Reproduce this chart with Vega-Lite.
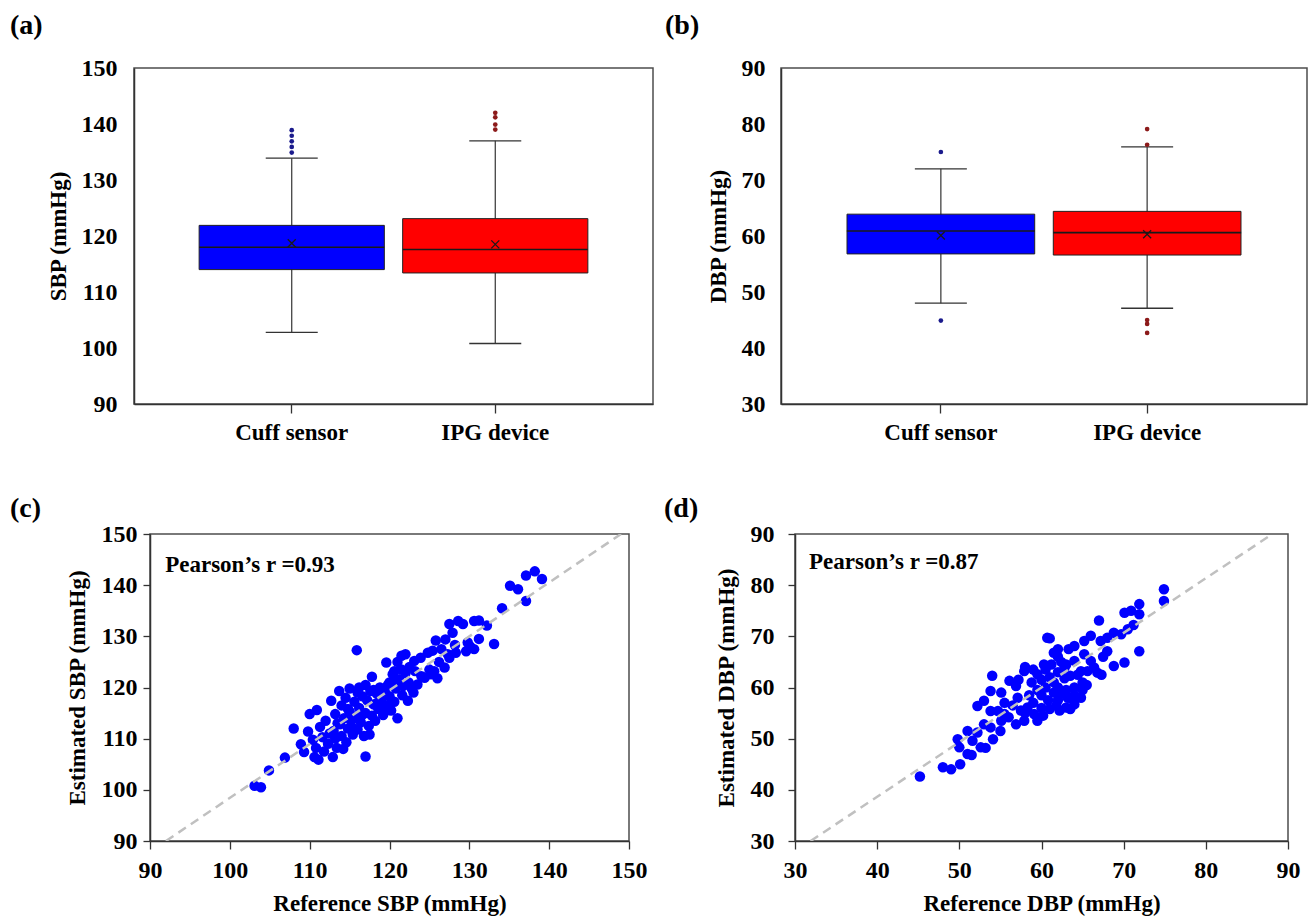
{
  "$schema": "https://vega.github.io/schema/vega-lite/v6.json",
  "padding": {"left": 9, "top": 11, "right": 0, "bottom": 0},
  "background": "white",
  "spacing": 49,
  "datasets": {
    "boxA": [
      {"device": "Cuff sensor", "lo": 102.8, "q1": 114.0, "median": 118.0, "q3": 121.9, "hi": 133.9, "mean": 118.7},
      {"device": "IPG device", "lo": 100.8, "q1": 113.4, "median": 117.6, "q3": 123.1, "hi": 137.0, "mean": 118.5}
    ],
    "outA": [
      {"device": "Cuff sensor", "value": 134.9}, {"device": "Cuff sensor", "value": 135.9}, {"device": "Cuff sensor", "value": 136.9},
      {"device": "Cuff sensor", "value": 137.9}, {"device": "Cuff sensor", "value": 138.9},
      {"device": "IPG device", "value": 139.0}, {"device": "IPG device", "value": 139.9}, {"device": "IPG device", "value": 141.2}, {"device": "IPG device", "value": 142.0}
    ],
    "boxB": [
      {"device": "Cuff sensor", "lo": 48.0, "q1": 56.8, "median": 60.9, "q3": 63.9, "hi": 72.0, "mean": 60.1},
      {"device": "IPG device", "lo": 47.1, "q1": 56.6, "median": 60.6, "q3": 64.4, "hi": 75.9, "mean": 60.3}
    ],
    "outB": [
      {"device": "Cuff sensor", "value": 75.0}, {"device": "Cuff sensor", "value": 44.9},
      {"device": "IPG device", "value": 79.1}, {"device": "IPG device", "value": 76.3}, {"device": "IPG device", "value": 45.0},
      {"device": "IPG device", "value": 44.3}, {"device": "IPG device", "value": 42.7}
    ],
    "spacer": [{"k": 0}],
    "scatC": [
      {"ref":103.1,"est":100.8},{"ref":103.9,"est":100.5},{"ref":104.9,"est":103.8},{"ref":106.9,"est":106.3},{"ref":108,"est":112},
      {"ref":108.9,"est":108.9},{"ref":109.3,"est":107.4},{"ref":109.8,"est":111.4},{"ref":110,"est":114.8},{"ref":110.4,"est":109.8},
      {"ref":110.6,"est":106.4},{"ref":110.8,"est":108.2},{"ref":110.9,"est":115.6},{"ref":111.1,"est":105.9},{"ref":111.3,"est":112.3},
      {"ref":111.6,"est":110.3},{"ref":111.8,"est":107.5},{"ref":112,"est":113.5},{"ref":112.3,"est":109},{"ref":112.7,"est":117.4},
      {"ref":112.9,"est":106.4},{"ref":113,"est":111.5},{"ref":113.2,"est":114.8},{"ref":113.4,"est":108.2},{"ref":113.7,"est":119.3},
      {"ref":113.8,"est":112.8},{"ref":114,"est":110.5},{"ref":114,"est":116.5},{"ref":114.3,"est":114},{"ref":114.5,"est":118},
      {"ref":114.6,"est":109.3},{"ref":114.8,"est":112},{"ref":115,"est":119.8},{"ref":115,"est":115.3},{"ref":115.2,"est":113.5},
      {"ref":115.4,"est":110.8},{"ref":115.6,"est":117.2},{"ref":115.9,"est":127.3},{"ref":115.8,"est":114.3},{"ref":116,"est":119},
      {"ref":116,"est":111.8},{"ref":116.2,"est":116},{"ref":116.4,"est":113.2},{"ref":116.6,"est":118.3},{"ref":116.8,"est":110.5},
      {"ref":117,"est":106.5},{"ref":117,"est":115},{"ref":117.2,"est":117.5},{"ref":117.4,"est":112.5},{"ref":117.6,"est":119.3},
      {"ref":117.8,"est":122.1},{"ref":117.8,"est":114.5},{"ref":118,"est":116.7},{"ref":118.2,"est":113.5},{"ref":118.4,"est":118.8},
      {"ref":118.6,"est":115.8},{"ref":118.8,"est":120},{"ref":119,"est":117.5},{"ref":119.2,"est":114.6},{"ref":119.4,"est":119.3},
      {"ref":119.6,"est":124.9},{"ref":119.7,"est":116.5},{"ref":120,"est":121},{"ref":120,"est":118.3},{"ref":120.2,"est":115.5},
      {"ref":120.4,"est":122.6},{"ref":120.6,"est":123.2},{"ref":120.6,"est":117.2},{"ref":121,"est":114},{"ref":120.8,"est":119.8},
      {"ref":121,"est":125},{"ref":121.2,"est":121.6},{"ref":121.5,"est":126.2},{"ref":121.6,"est":118.5},{"ref":121.7,"est":120.3},
      {"ref":122,"est":126.5},{"ref":122,"est":122.8},{"ref":122.3,"est":117.4},{"ref":122.4,"est":121},{"ref":122.8,"est":119.8},
      {"ref":123.1,"est":125.2},{"ref":123.2,"est":123.2},{"ref":123.5,"est":120.6},{"ref":123.9,"est":125.8},{"ref":124,"est":122.2},
      {"ref":124.4,"est":121.9},{"ref":124.8,"est":126.8},{"ref":125,"est":123.5},{"ref":125.2,"est":122.6},{"ref":125.4,"est":127.2},
      {"ref":125.8,"est":129.2},{"ref":125.6,"est":123.2},{"ref":126,"est":121.8},{"ref":126.2,"est":125},{"ref":126.5,"est":127.5},
      {"ref":126.9,"est":123.9},{"ref":127,"est":129.4},{"ref":127.3,"est":126.5},{"ref":127.5,"est":125.8},{"ref":127.5,"est":132.4},
      {"ref":127.9,"est":130.7},{"ref":128.2,"est":128.3},{"ref":128.6,"est":133},{"ref":128.3,"est":126.8},{"ref":129.2,"est":132.4},
      {"ref":129.6,"est":127.1},{"ref":129.8,"est":128.8},{"ref":130.1,"est":128},{"ref":130.6,"est":133},{"ref":130.6,"est":127.5},
      {"ref":131.2,"est":129.5},{"ref":131.2,"est":133.1},{"ref":132.2,"est":132.1},{"ref":133.1,"est":128.5},{"ref":134.1,"est":135.5},
      {"ref":135.1,"est":139.9},{"ref":136.1,"est":139.2},{"ref":137.1,"est":136.9},{"ref":137.1,"est":141.9},{"ref":138.2,"est":142.7},
      {"ref":139.1,"est":141.2},
      {"ref":112.5,"est":111},{"ref":113.5,"est":113},{"ref":114.2,"est":108},{"ref":115.5,"est":112},{"ref":116.5,"est":114.5},
      {"ref":117.5,"est":110.8},{"ref":118.5,"est":117},{"ref":119.5,"est":115.5},{"ref":114.8,"est":115.8},{"ref":116.2,"est":120},
      {"ref":113.2,"est":110},{"ref":117,"est":120.5},{"ref":118,"est":119.5},{"ref":119.8,"est":120.5},{"ref":121.5,"est":123.5},
      {"ref":122.5,"est":124},{"ref":120.5,"est":121},{"ref":123,"est":119}
    ],
    "scatD": [
      {"ref":45.2,"est":42.6},{"ref":48,"est":44.4},{"ref":49,"est":44},{"ref":50.1,"est":45},{"ref":49.8,"est":49.9},
      {"ref":51,"est":51.5},{"ref":51.6,"est":49.6},{"ref":52.6,"est":48.3},{"ref":51,"est":47},{"ref":52.2,"est":51.2},
      {"ref":54.1,"est":49.9},{"ref":53.8,"est":52.2},{"ref":55.1,"est":53.5},{"ref":53,"est":52.8},{"ref":52.2,"est":56.4},
      {"ref":53,"est":57.4},{"ref":53.8,"est":55.4},{"ref":54.7,"est":55.4},{"ref":55.5,"est":54.8},{"ref":53.8,"est":59.3},
      {"ref":55.1,"est":59},{"ref":54,"est":62.3},{"ref":56.1,"est":61.3},{"ref":56.9,"est":60.3},{"ref":57.1,"est":58},
      {"ref":56.9,"est":52.8},{"ref":57.9,"est":53.5},{"ref":58.3,"est":56.1},{"ref":59.1,"est":54.8},{"ref":57.9,"est":63.2},
      {"ref":59.5,"est":62.6},{"ref":60.3,"est":64.5},{"ref":60.7,"est":69.7},{"ref":50,"est":48.3},{"ref":51.5,"est":46.8},
      {"ref":53.2,"est":48.2},{"ref":55,"est":51.5},{"ref":55.5,"est":57},
      {"ref":58,"est":55},{"ref":58.5,"est":58.5},{"ref":58.8,"est":61},{"ref":59,"est":57},{"ref":59.5,"est":59.5},
      {"ref":60,"est":56},{"ref":60,"est":58.5},{"ref":60,"est":61.5},{"ref":60.5,"est":60},{"ref":60.8,"est":57.5},
      {"ref":61,"est":62},{"ref":61,"est":55.8},{"ref":61.2,"est":64.5},{"ref":61.5,"est":59},{"ref":61.5,"est":61},
      {"ref":61.8,"est":56.5},{"ref":62,"est":66},{"ref":62,"est":63},{"ref":62,"est":60},{"ref":62,"est":57.5},
      {"ref":62.4,"est":65},{"ref":62.5,"est":58.8},{"ref":62.8,"est":61.8},{"ref":63,"est":56.1},{"ref":63,"est":64.5},
      {"ref":63,"est":59.5},{"ref":63.3,"est":67.5},{"ref":63.5,"est":62.3},{"ref":63.7,"est":57.8},{"ref":64,"est":68.1},
      {"ref":64,"est":60},{"ref":64,"est":65.2},{"ref":64,"est":56.7},{"ref":64,"est":58.5},{"ref":64.4,"est":62.5},
      {"ref":64.8,"est":63.2},{"ref":64.8,"est":58},{"ref":65,"est":61},{"ref":65.2,"est":69.1},{"ref":65,"est":59.5},
      {"ref":65.2,"est":66.5},{"ref":65.6,"est":63.2},{"ref":65.5,"est":60.5},{"ref":66,"est":70.1},{"ref":66,"est":65.2},
      {"ref":66.4,"est":63.9},{"ref":66.8,"est":62.9},{"ref":67,"est":73.1},{"ref":67.2,"est":69.1},{"ref":67.3,"est":62.5},
      {"ref":67.5,"est":66},{"ref":68,"est":67.1},{"ref":68,"est":69.7},{"ref":68.8,"est":70.7},{"ref":68.8,"est":64.2},
      {"ref":69.7,"est":70.4},{"ref":70.1,"est":64.9},{"ref":70.1,"est":74.6},{"ref":70.5,"est":71.4},{"ref":70.9,"est":75},
      {"ref":71.2,"est":72.2},{"ref":71.9,"est":76.3},{"ref":71.9,"est":74.3},{"ref":71.9,"est":67.1},{"ref":74.9,"est":79.2},
      {"ref":74.9,"est":76.9},
      {"ref":62,"est":67.5},{"ref":61,"est":69.6},{"ref":59,"est":63.5},{"ref":58,"est":64},{"ref":60.5,"est":63.5},
      {"ref":61.5,"est":66.8},{"ref":62.8,"est":63.9},{"ref":63.2,"est":58},{"ref":57.2,"est":61.5},{"ref":56,"est":54.2},
      {"ref":57.5,"est":55.5},{"ref":59.5,"est":53.5},{"ref":60.2,"est":54.5},{"ref":62.2,"est":55.5},{"ref":63.5,"est":55.8},
      {"ref":56.5,"est":56.5}
    ],
    "lineC": [{"ref": 92, "est": 90}, {"ref": 149, "est": 150}],
    "lineD": [{"ref": 31.9, "est": 30}, {"ref": 88.1, "est": 90}],
    "textC": [{"label": "Pearson’s r =0.93", "ref": 91.9, "est": 143.9}],
    "textD": [{"label": "Pearson’s r =0.87", "ref": 31.7, "est": 84.5}]
  },
  "vconcat": [
    {
      "spacing": 10,
      "hconcat": [
        {
          "width": 519, "height": 336,
          "title": {"text": "(a)", "dx": -124, "offset": 16},
          "encoding": {
            "x": {"field": "device", "type": "nominal", "sort": ["Cuff sensor", "IPG device"],
                  "scale": {"paddingInner": 0.09, "paddingOuter": 0.32},
                  "axis": {"title": null, "labelAngle": 0, "tickSize": 9, "labelPadding": 8, "labelFontSize": 23}}
          },
          "layer": [
            {"data": {"name": "boxA"}, "mark": {"type": "rule", "color": "#333", "strokeWidth": 1.2},
             "encoding": {"y": {"field": "lo", "type": "quantitative", "scale": {"domain": [90, 150], "nice": false, "zero": false},
                                "axis": {"title": "SBP (mmHg)", "values": [90, 100, 110, 120, 130, 140, 150], "ticks": false, "labelPadding": 17, "titlePadding": 11}},
                          "y2": {"field": "hi"}}},
            {"data": {"name": "boxA"}, "mark": {"type": "bar", "stroke": "#222", "strokeWidth": 1, "opacity": 1},
             "encoding": {"y": {"field": "q1", "type": "quantitative", "scale": {"domain": [90, 150]}}, "y2": {"field": "q3"},
                          "color": {"condition": {"test": "datum.device === 'Cuff sensor'", "value": "#0000ff"}, "value": "#ff0000"}}},
            {"data": {"name": "boxA"}, "mark": {"type": "tick", "size": 52, "thickness": 1.3, "color": "#333", "opacity": 1},
             "encoding": {"y": {"field": "lo", "type": "quantitative", "scale": {"domain": [90, 150]}}}},
            {"data": {"name": "boxA"}, "mark": {"type": "tick", "size": 52, "thickness": 1.3, "color": "#333", "opacity": 1},
             "encoding": {"y": {"field": "hi", "type": "quantitative", "scale": {"domain": [90, 150]}}}},
            {"data": {"name": "boxA"}, "mark": {"type": "tick", "size": 185, "thickness": 1.6, "color": "#1a1a1a", "opacity": 1},
             "encoding": {"y": {"field": "median", "type": "quantitative", "scale": {"domain": [90, 150]}}}},
            {"data": {"name": "boxA"}, "mark": {"type": "point", "shape": "M-1,-1L1,1M-1,1L1,-1", "size": 64, "filled": false, "stroke": "#1a1a1a", "strokeWidth": 1.3, "opacity": 1},
             "encoding": {"y": {"field": "mean", "type": "quantitative", "scale": {"domain": [90, 150]}}}},
            {"data": {"name": "outA"}, "mark": {"type": "circle", "size": 22, "opacity": 1},
             "encoding": {"y": {"field": "value", "type": "quantitative", "scale": {"domain": [90, 150]}},
                          "color": {"condition": {"test": "datum.device === 'Cuff sensor'", "value": "#1a1a8c"}, "value": "#8c1a1a"}}}
          ]
        },
        {
          "width": 526, "height": 336,
          "title": {"text": "(b)", "dx": -116, "offset": 16},
          "encoding": {
            "x": {"field": "device", "type": "nominal", "sort": ["Cuff sensor", "IPG device"],
                  "scale": {"paddingInner": 0.09, "paddingOuter": 0.32},
                  "axis": {"title": null, "labelAngle": 0, "tickSize": 9, "labelPadding": 8, "labelFontSize": 23}}
          },
          "layer": [
            {"data": {"name": "boxB"}, "mark": {"type": "rule", "color": "#333", "strokeWidth": 1.2},
             "encoding": {"y": {"field": "lo", "type": "quantitative", "scale": {"domain": [30, 90], "nice": false, "zero": false},
                                "axis": {"title": "DBP (mmHg)", "values": [30, 40, 50, 60, 70, 80, 90], "ticks": false, "labelPadding": 16, "titlePadding": 11}},
                          "y2": {"field": "hi"}}},
            {"data": {"name": "boxB"}, "mark": {"type": "bar", "stroke": "#222", "strokeWidth": 1, "opacity": 1},
             "encoding": {"y": {"field": "q1", "type": "quantitative", "scale": {"domain": [30, 90]}}, "y2": {"field": "q3"},
                          "color": {"condition": {"test": "datum.device === 'Cuff sensor'", "value": "#0000ff"}, "value": "#ff0000"}}},
            {"data": {"name": "boxB"}, "mark": {"type": "tick", "size": 52, "thickness": 1.3, "color": "#333", "opacity": 1},
             "encoding": {"y": {"field": "lo", "type": "quantitative", "scale": {"domain": [30, 90]}}}},
            {"data": {"name": "boxB"}, "mark": {"type": "tick", "size": 52, "thickness": 1.3, "color": "#333", "opacity": 1},
             "encoding": {"y": {"field": "hi", "type": "quantitative", "scale": {"domain": [30, 90]}}}},
            {"data": {"name": "boxB"}, "mark": {"type": "tick", "size": 188, "thickness": 1.6, "color": "#1a1a1a", "opacity": 1},
             "encoding": {"y": {"field": "median", "type": "quantitative", "scale": {"domain": [30, 90]}}}},
            {"data": {"name": "boxB"}, "mark": {"type": "point", "shape": "M-1,-1L1,1M-1,1L1,-1", "size": 64, "filled": false, "stroke": "#1a1a1a", "strokeWidth": 1.3, "opacity": 1},
             "encoding": {"y": {"field": "mean", "type": "quantitative", "scale": {"domain": [30, 90]}}}},
            {"data": {"name": "outB"}, "mark": {"type": "circle", "size": 22, "opacity": 1},
             "encoding": {"y": {"field": "value", "type": "quantitative", "scale": {"domain": [30, 90]}},
                          "color": {"condition": {"test": "datum.device === 'Cuff sensor'", "value": "#1a1a8c"}, "value": "#8c1a1a"}}}
          ]
        }
      ]
    },
    {
      "spacing": -129,
      "hconcat": [
        {
          "width": 1, "height": 1,
          "view": {"stroke": null},
          "data": {"name": "spacer"},
          "mark": {"type": "point", "opacity": 0},
          "encoding": {}
        },
        {
          "spacing": 15,
          "hconcat": [
            {
              "width": 479, "height": 307,
              "title": {"text": "(c)", "dx": -140, "offset": -1},
              "layer": [
                {"data": {"name": "scatC"}, "mark": {"type": "circle", "size": 110, "opacity": 1, "color": "#0000ff"},
                 "encoding": {
                   "x": {"field": "ref", "type": "quantitative", "scale": {"domain": [90, 150], "nice": false, "zero": false},
                         "axis": {"title": "Reference SBP (mmHg)", "values": [90, 100, 110, 120, 130, 140, 150], "tickSize": 8, "labelPadding": 9, "titlePadding": 10, "labelFlush": false, "labelOverlap": false}},
                   "y": {"field": "est", "type": "quantitative", "scale": {"domain": [90, 150], "nice": false, "zero": false},
                         "axis": {"title": "Estimated SBP (mmHg)", "values": [90, 100, 110, 120, 130, 140, 150], "tickSize": 7, "labelPadding": 6, "titlePadding": 12, "labelOverlap": false}}
                 }},
                {"data": {"name": "lineC"}, "mark": {"type": "line", "color": "#c0c0c0", "strokeDash": [9, 6], "strokeWidth": 2.5, "clip": true},
                 "encoding": {"x": {"field": "ref", "type": "quantitative"}, "y": {"field": "est", "type": "quantitative"}}},
                {"data": {"name": "textC"}, "mark": {"type": "text", "align": "left", "baseline": "middle", "fontSize": 23, "fontWeight": "bold", "font": "Liberation Serif", "color": "#000"},
                 "encoding": {"x": {"field": "ref", "type": "quantitative"}, "y": {"field": "est", "type": "quantitative"}, "text": {"field": "label"}}}
              ]
            },
            {
              "width": 493, "height": 307,
              "title": {"text": "(d)", "dx": -131, "offset": -1},
              "layer": [
                {"data": {"name": "scatD"}, "mark": {"type": "circle", "size": 110, "opacity": 1, "color": "#0000ff"},
                 "encoding": {
                   "x": {"field": "ref", "type": "quantitative", "scale": {"domain": [30, 90], "nice": false, "zero": false},
                         "axis": {"title": "Reference DBP (mmHg)", "values": [30, 40, 50, 60, 70, 80, 90], "tickSize": 8, "labelPadding": 9, "titlePadding": 10, "labelFlush": false, "labelOverlap": false}},
                   "y": {"field": "est", "type": "quantitative", "scale": {"domain": [30, 90], "nice": false, "zero": false},
                         "axis": {"title": "Estimated DBP (mmHg)", "values": [30, 40, 50, 60, 70, 80, 90], "tickSize": 7, "labelPadding": 14, "titlePadding": 12, "labelOverlap": false}}
                 }},
                {"data": {"name": "lineD"}, "mark": {"type": "line", "color": "#c0c0c0", "strokeDash": [9, 6], "strokeWidth": 2.5, "clip": true},
                 "encoding": {"x": {"field": "ref", "type": "quantitative"}, "y": {"field": "est", "type": "quantitative"}}},
                {"data": {"name": "textD"}, "mark": {"type": "text", "align": "left", "baseline": "middle", "fontSize": 23, "fontWeight": "bold", "font": "Liberation Serif", "color": "#000"},
                 "encoding": {"x": {"field": "ref", "type": "quantitative"}, "y": {"field": "est", "type": "quantitative"}, "text": {"field": "label"}}}
              ]
            }
          ]
        }
      ]
    }
  ],
  "config": {
    "font": "Liberation Serif",
    "view": {"stroke": "#4d4d4d", "strokeWidth": 1.5},
    "axis": {
      "grid": false,
      "labelFont": "Liberation Serif", "labelFontSize": 24, "labelFontWeight": "bold", "labelColor": "#000",
      "titleFont": "Liberation Serif", "titleFontSize": 23, "titleFontWeight": "bold", "titleColor": "#000",
      "domainColor": "#333", "domainWidth": 1.5, "tickColor": "#333", "tickWidth": 1.3
    },
    "title": {"font": "Liberation Serif", "fontSize": 28, "fontWeight": "bold", "color": "#000", "anchor": "start", "frame": "group"}
  }
}
